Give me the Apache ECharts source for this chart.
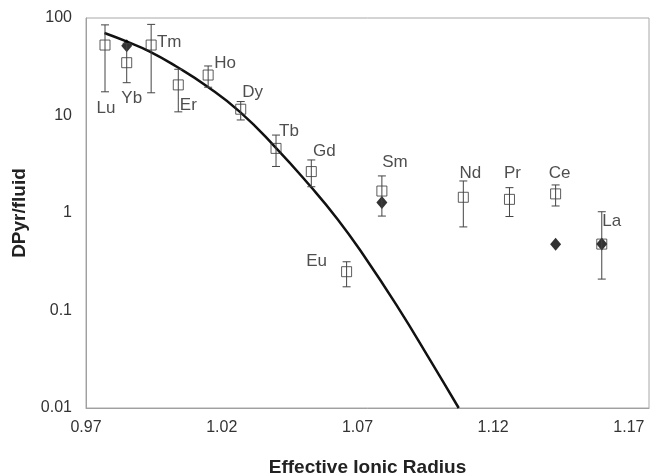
<!DOCTYPE html>
<html>
<head>
<meta charset="utf-8">
<script src="https://cdn.jsdelivr.net/npm/echarts@6/dist/echarts.min.js"></script>
<style>
  html, body { margin: 0; padding: 0; background: #fff; }
  #chart { width: 651px; height: 474px; }
</style>
</head>
<body>
<div id="chart"></div>
<script>
// REE partitioning, pyroxene / fluid
const elements = ['Lu', 'Yb', 'Tm', 'Er', 'Ho', 'Dy', 'Tb', 'Gd', 'Eu', 'Sm', 'Nd', 'Pr', 'Ce', 'La'];
const radius = [0.977, 0.985, 0.994, 1.004, 1.015, 1.027, 1.040, 1.053, 1.066, 1.079, 1.109, 1.126, 1.143, 1.160];
const dValues = [52.8, 34.8, 52.8, 20.6, 26, 11.6, 4.6, 2.66, 0.25, 1.68, 1.45, 1.38, 1.57, 0.48];
const errHigh = [85, 55, 86, 29.8, 32.2, 13.9, 6.3, 3.5, 0.316, 2.4, 2.13, 1.82, 1.94, 1.03];
const errLow = [17.5, 21.7, 17.1, 10.9, 19.5, 9.0, 3.0, 1.86, 0.175, 0.93, 0.72, 0.92, 1.18, 0.21];

// filled diamonds
const diamondRadius = [0.985, 1.079, 1.143, 1.160];
const diamondValues = [52, 1.28, 0.478, 0.48];

// fitted curve
const curveX = [0.9768, 0.9849, 0.9935, 1.0033, 1.0144, 1.0267, 1.0397, 1.0526, 1.0626, 1.0722, 1.0848, 1.0970, 1.1073];
const curveY = [70.2, 57.5, 45.3, 31.8, 20.1, 10.9, 4.75, 1.89, 0.87, 0.371, 0.109, 0.0303, 0.01];

const xTicks = [0.97, 1.02, 1.07, 1.12, 1.17];

// where each element name sits relative to its square (px)
const labelOffsets = [[1, 63], [5, 36], [18, -3], [10, 20], [17, -12], [12, -17], [13, -17],
  [13, -20], [-30, -10], [13, -29], [7, -24], [3, -26], [4, -21], [10, -23]];

const chart = echarts.init(document.getElementById('chart'));
const font = 'Liberation Sans, Arial, sans-serif';

const squareData = radius.map((r, i) => ({
  value: [r, dValues[i]],
  label: { offset: labelOffsets[i] }
}));
const errData = radius.map((r, i) => [r, errLow[i], errHigh[i]]);

chart.setOption({
  animation: false,
  backgroundColor: '#fff',
  grid: {
    left: 86, right: 2, top: 18, bottom: 66,
    outerBoundsMode: 'none',
    containLabel: false,
    show: true, borderColor: '#a8a8a8', borderWidth: 1
  },
  xAxis: {
    type: 'value',
    min: 0.97,
    max: 1.1774,
    name: 'Effective Ionic Radius',
    nameLocation: 'middle',
    nameGap: 50,
    nameTextStyle: { fontFamily: font, fontSize: 19, fontWeight: 'bold', color: '#222' },
    axisLine: { lineStyle: { color: '#a0a0a0' } },
    axisTick: { show: false },
    splitLine: { show: false },
    axisLabel: {
      customValues: xTicks,
      formatter: v => v.toFixed(2),
      fontFamily: font, fontSize: 16, color: '#333', margin: 12
    }
  },
  yAxis: {
    type: 'log',
    logBase: 10,
    min: 0.01,
    max: 100,
    name: 'DPyr/fluid',
    nameLocation: 'middle',
    nameGap: 57,
    nameTextStyle: { fontFamily: font, fontSize: 19, fontWeight: 'bold', color: '#222' },
    axisLine: { show: true, lineStyle: { color: '#a0a0a0' } },
    axisTick: { show: false },
    splitLine: { show: false },
    axisLabel: {
      formatter: v => String(v),
      fontFamily: font, fontSize: 16, color: '#333', margin: 14
    }
  },
  series: [
    {
      type: 'line',
      data: curveX.map((x, i) => [x, curveY[i]]),
      smooth: 0.5,
      symbol: 'none',
      lineStyle: { color: '#111', width: 2.5 },
      z: 2
    },
    {
      type: 'scatter',
      data: diamondRadius.map((r, i) => [r, diamondValues[i]]),
      symbol: 'diamond',
      symbolSize: [11, 13],
      itemStyle: { color: '#000' },
      z: 3
    },
    {
      type: 'scatter',
      data: squareData,
      symbol: 'rect',
      symbolSize: 10,
      itemStyle: { color: 'rgba(255,255,255,0)', borderColor: '#333', borderWidth: 1 },
      label: {
        show: true,
        position: 'inside',
        formatter: p => elements[p.dataIndex],
        fontFamily: font, fontSize: 17, color: '#222'
      },
      z: 4
    },
    {
      type: 'custom',
      data: errData,
      renderItem: (params, api) => {
        const x = api.value(0);
        const top = api.coord([x, api.value(2)]);
        const bot = api.coord([x, api.value(1)]);
        const cap = 4;
        const style = { stroke: '#444', lineWidth: 1 };
        return {
          type: 'group',
          children: [
            { type: 'line', shape: { x1: top[0], y1: top[1], x2: bot[0], y2: bot[1] }, style },
            { type: 'line', shape: { x1: top[0] - cap, y1: top[1], x2: top[0] + cap, y2: top[1] }, style },
            { type: 'line', shape: { x1: bot[0] - cap, y1: bot[1], x2: bot[0] + cap, y2: bot[1] }, style }
          ]
        };
      },
      z: 5
    }
  ]
});
</script>
</body>
</html>
